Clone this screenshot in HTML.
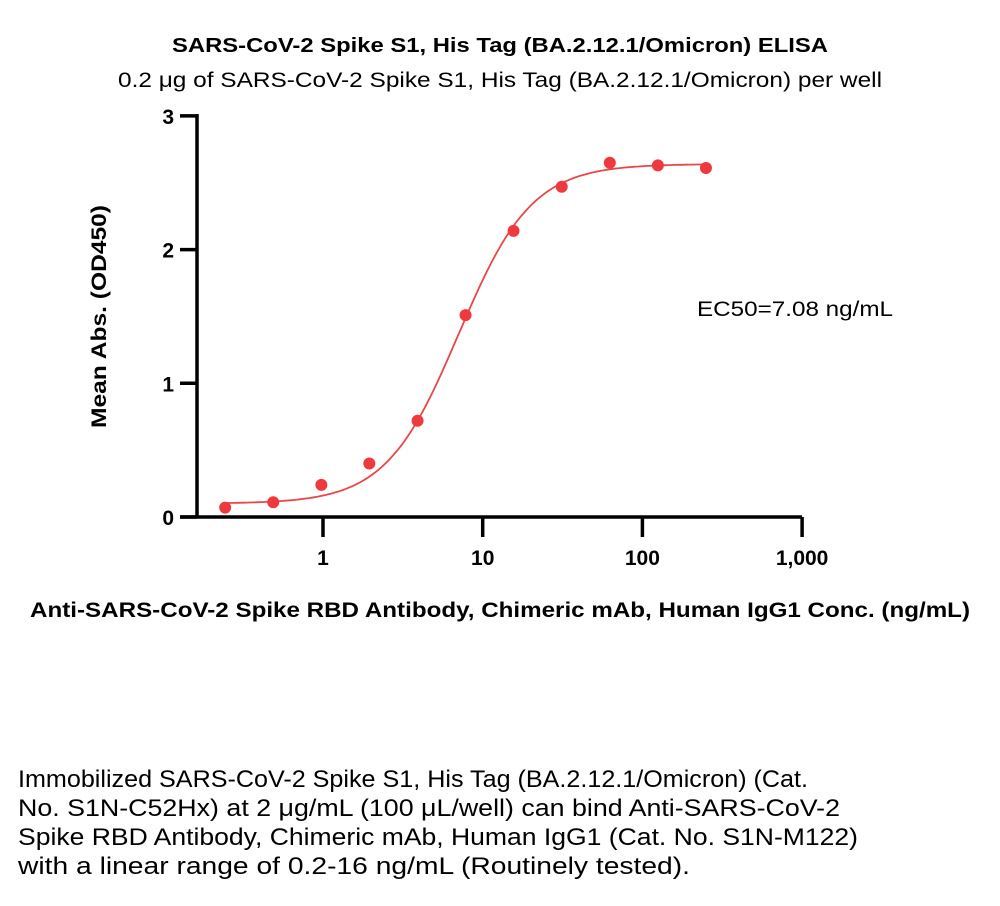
<!DOCTYPE html>
<html><head><meta charset="utf-8"><style>
body{margin:0;background:#fff;width:1000px;height:901px;overflow:hidden;font-family:"Liberation Sans",sans-serif}
svg text{font-family:"Liberation Sans",sans-serif}
</style></head><body>
<svg id="chart" width="1000" height="901" viewBox="0 0 1000 901" xmlns="http://www.w3.org/2000/svg">
<text x="172" y="52" textLength="656" lengthAdjust="spacingAndGlyphs" font-size="20" font-weight="bold">SARS-CoV-2 Spike S1, His Tag (BA.2.12.1/Omicron) ELISA</text>
<text x="118" y="87" textLength="764" lengthAdjust="spacingAndGlyphs" font-size="21">0.2 μg of SARS-CoV-2 Spike S1, His Tag (BA.2.12.1/Omicron) per well</text>
<text transform="translate(106,428) rotate(-90)" textLength="223" lengthAdjust="spacingAndGlyphs" font-size="21" font-weight="bold">Mean Abs. (OD450)</text>
<text x="30" y="617" textLength="940" lengthAdjust="spacingAndGlyphs" font-size="21" font-weight="bold">Anti-SARS-CoV-2 Spike RBD Antibody, Chimeric mAb, Human IgG1 Conc. (ng/mL)</text>
<text x="697" y="316" textLength="196" lengthAdjust="spacingAndGlyphs" font-size="21">EC50=7.08 ng/mL</text>
<g id="axes"></g><g id="curve"></g><g id="points"></g>
<g font-size="24">
<text x="18" y="787" textLength="790" lengthAdjust="spacingAndGlyphs">Immobilized SARS-CoV-2 Spike S1, His Tag (BA.2.12.1/Omicron) (Cat.</text>
<text x="18" y="816" textLength="822" lengthAdjust="spacingAndGlyphs">No. S1N-C52Hx) at 2 μg/mL (100 μL/well) can bind Anti-SARS-CoV-2</text>
<text x="18" y="845" textLength="840" lengthAdjust="spacingAndGlyphs">Spike RBD Antibody, Chimeric mAb, Human IgG1 (Cat. No. S1N-M122)</text>
<text x="18" y="874" textLength="672" lengthAdjust="spacingAndGlyphs">with a linear range of 0.2-16 ng/mL (Routinely tested).</text>
</g>
</svg>
<script>
const concentrations=[0.244,0.488,0.977,1.95,3.91,7.81,15.6,31.25,62.5,125,250];
const absorbance=[0.07,0.11,0.24,0.40,0.72,1.51,2.14,2.47,2.65,2.63,2.61];
const xTicks=[1,10,100,1000];
const xTickLabels=["1","10","100","1,000"];
const yTicks=[0,1,2,3];
const fitParams=[0.10,2.64,7.08,1.9]; // bottom, top, EC50, hill
const NS="http://www.w3.org/2000/svg";
const x0=323,pxDec=159.7,yBase=517,pxUnit=133.7;
const xs=v=>x0+pxDec*Math.log10(v);
const ys=v=>yBase-pxUnit*v;
function mk(t,a,p){const e=document.createElementNS(NS,t);for(const k in a)e.setAttribute(k,a[k]);p.appendChild(e);return e;}
const ax=document.getElementById('axes');
let l=mk('path',{d:`M197,114 V${yBase} M180,${yBase} H802`,stroke:'#000','stroke-width':3.5,fill:'none'},ax);


yTicks.forEach(t=>{
 const tk=mk('line',{x1:180,x2:197,y1:ys(t),y2:ys(t),stroke:'#000','stroke-width':3.5},ax);
 
 
 const tx=mk('text',{x:174,y:ys(t)+8,'text-anchor':'end','font-size':21,'font-weight':'bold'},ax);
 tx.textContent=t;
 
 
});
xTicks.forEach((t,i)=>{
 const tk=mk('line',{x1:xs(t),x2:xs(t),y1:yBase,y2:yBase+20,stroke:'#000','stroke-width':3.5},ax);
 
 
 const tx=mk('text',{x:xs(t),y:565,'text-anchor':'middle','font-size':21,'font-weight':'bold'},ax);
 tx.textContent=xTickLabels[i];
 
 
});
const [b,tp,ec,h]=fitParams;
let d='';const lo=Math.log10(concentrations[0]),hi=Math.log10(concentrations[concentrations.length-1]);
for(let i=0;i<=200;i++){const lx=lo+(hi-lo)*i/200,v=Math.pow(10,lx);const y=b+(tp-b)/(1+Math.pow(ec/v,h));d+=(i?'L':'M')+xs(v).toFixed(1)+','+ys(y).toFixed(1);}
const c=mk('path',{d:d,stroke:'#e8474a','stroke-width':1.8,fill:'none'},document.getElementById('curve'));


const pg=document.getElementById('points');
concentrations.forEach((v,i)=>{
 const p=mk('circle',{cx:xs(v),cy:ys(absorbance[i]),r:6,fill:'#ee3a3e'},pg);
 
 
});
</script>
</body></html>
